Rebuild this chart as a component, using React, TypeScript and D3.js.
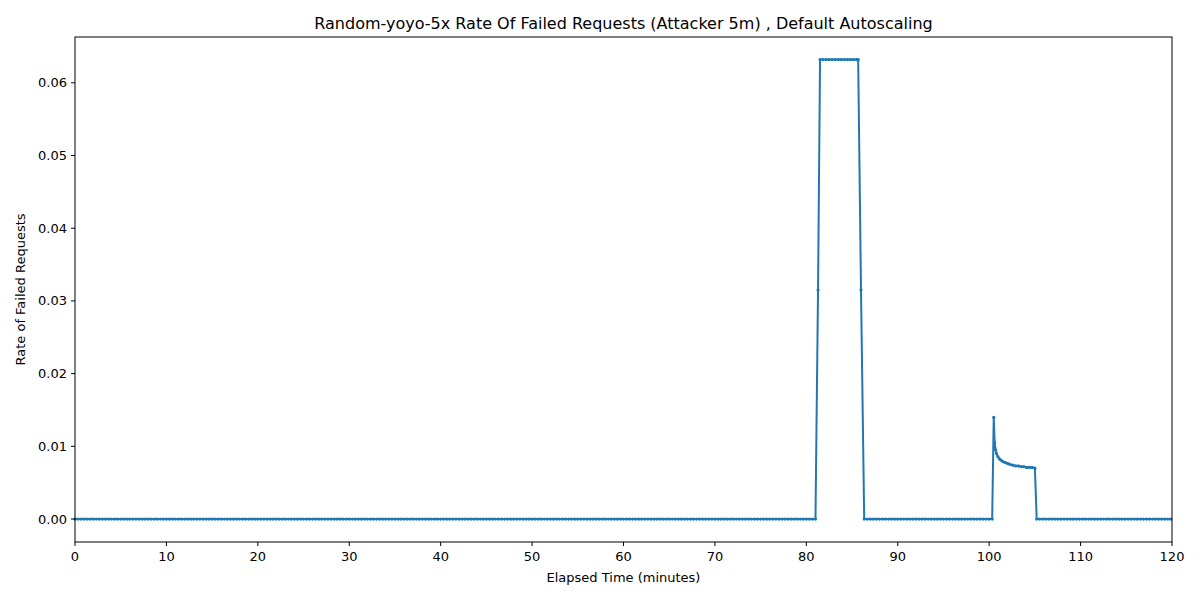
import React from "react";
import * as d3 from "d3";

// baseline zero runs: [start, end] in minutes, sampled every 20 s
const zeroRuns: [number, number][] = [
  [0, 81.0],
  [86.33, 100.33],
  [105.2, 120],
];
const spike1Times = [81.28, 81.5, 81.83, 82.17, 82.5, 82.83, 83.17, 83.5, 83.83, 84.17, 84.5, 84.83, 85.17, 85.5, 85.67, 85.98];
const spike1Values = [0.0315, 0.0632, 0.0632, 0.0632, 0.0632, 0.0632, 0.0632, 0.0632, 0.0632, 0.0632, 0.0632, 0.0632, 0.0632, 0.0632, 0.0632, 0.0315];
const spike2Times = [100.5, 100.6, 100.7, 100.8, 100.95, 101.1, 101.3, 101.5, 101.7, 101.9, 102.1, 102.3, 102.6, 102.9, 103.2, 103.5, 103.8, 104.1, 104.4, 104.7, 105.0];
const spike2Values = [0.014, 0.0105, 0.0095, 0.009, 0.0086, 0.0083, 0.0081, 0.0079, 0.0078, 0.0077, 0.0076, 0.0075, 0.0074, 0.0073, 0.0073, 0.0072, 0.0072, 0.0071, 0.0071, 0.0071, 0.007];
const xTicks = [0, 10, 20, 30, 40, 50, 60, 70, 80, 90, 100, 110, 120];
const yTicks = [0, 0.01, 0.02, 0.03, 0.04, 0.05, 0.06];

type P = { t: number; v: number };
const points: P[] = [];
zeroRuns.forEach(([a, b]) => {
  for (let t = a; t <= b + 1e-6; t += 1 / 3) points.push({ t, v: 0 });
});
spike1Times.forEach((t, i) => points.push({ t, v: spike1Values[i] }));
spike2Times.forEach((t, i) => points.push({ t, v: spike2Values[i] }));
points.sort((a, b) => a.t - b.t);

const W = 1200, H = 600;
const m = { left: 75, right: 28, top: 37, bottom: 58 };

export default function App() {
  const x = d3.scaleLinear().domain([0, 120]).range([m.left, W - m.right]);
  const y = d3.scaleLinear().domain([-0.00316, 0.0663]).range([H - m.bottom, m.top]);
  const line = d3.line<P>().x((d) => x(d.t)).y((d) => y(d.v));
  const font = "DejaVu Sans, sans-serif";
  return (
    <svg width={W} height={H} style={{ position: "absolute", left: 0, top: 0, fontFamily: font }}>
      <rect width={W} height={H} fill="#fff" />
      <path d={line(points)!} fill="none" stroke="#1f77b4" strokeWidth={2} />
      {points.map((d, i) => (
        <circle key={i} cx={x(d.t)} cy={y(d.v)} r={1.6} fill="#1f77b4" />
      ))}
      <rect x={m.left} y={m.top} width={W - m.left - m.right} height={H - m.top - m.bottom} fill="none" stroke="#000" strokeWidth={1} />
      {xTicks.map((t) => (
        <g key={t} transform={`translate(${x(t)},${H - m.bottom})`}>
          <line y2={4} stroke="#000" />
          <text y={19} textAnchor="middle" fontSize={13}>{t}</text>
        </g>
      ))}
      {yTicks.map((t) => (
        <g key={t} transform={`translate(${m.left},${y(t)})`}>
          <line x2={-4} stroke="#000" />
          <text x={-8} dy="0.35em" textAnchor="end" fontSize={13}>{t.toFixed(2)}</text>
        </g>
      ))}
      <text x={(m.left + W - m.right) / 2} y={582} textAnchor="middle" fontSize={13}>Elapsed Time (minutes)</text>
      <text transform={`translate(25,${(m.top + H - m.bottom) / 2}) rotate(-90)`} textAnchor="middle" fontSize={13}>Rate of Failed Requests</text>
      <text x={(m.left + W - m.right) / 2} y={29} textAnchor="middle" fontSize={16}>Random-yoyo-5x Rate Of Failed Requests (Attacker 5m) , Default Autoscaling</text>
    </svg>
  );
}
